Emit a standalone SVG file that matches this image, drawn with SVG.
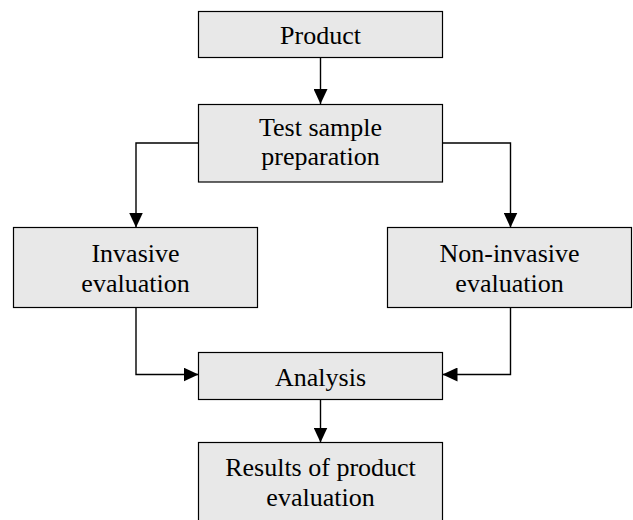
<svg xmlns="http://www.w3.org/2000/svg" width="633" height="520" viewBox="0 0 633 520">
<style>
.box{fill:#e8e8e8;stroke:#000;stroke-width:1.2}
.t{font-family:"Liberation Serif","Times New Roman",serif;font-size:26px;fill:#000;text-anchor:middle}
.c{fill:none;stroke:#000;stroke-width:1.4}
</style>
<defs>
<marker id="ah" markerUnits="userSpaceOnUse" markerWidth="15" markerHeight="14" refX="15" refY="7" orient="auto">
<path d="M0,0 L15,7 L0,14 Z" fill="#000"/>
</marker>
</defs>
<rect width="633" height="520" fill="#fff"/>
<g id="connectors">
<path class="c" d="M320.5 57.5 V104" marker-end="url(#ah)"/>
<path class="c" d="M198.5 143 H136 V227.5" marker-end="url(#ah)"/>
<path class="c" d="M442.5 143 H510.5 V227.5" marker-end="url(#ah)"/>
<path class="c" d="M136 307.5 V374.5 H198.5" marker-end="url(#ah)"/>
<path class="c" d="M510.5 307.5 V374.5 H442.5" marker-end="url(#ah)"/>
<path class="c" d="M320.5 399.5 V442.5" marker-end="url(#ah)"/>
</g>
<g id="product">
<rect class="box" x="198.5" y="11.5" width="244" height="46"/>
<text class="t" x="320.5" y="43.5">Product</text>
</g>
<g id="test-sample">
<rect class="box" x="198.5" y="104.5" width="244" height="77.5"/>
<text class="t" x="320.5" y="136">Test sample</text>
<text class="t" x="320.5" y="165">preparation</text>
</g>
<g id="invasive">
<rect class="box" x="13.5" y="227.5" width="244" height="80"/>
<text class="t" x="135.5" y="261.7">Invasive</text>
<text class="t" x="135.5" y="291.7">evaluation</text>
</g>
<g id="non-invasive">
<rect class="box" x="387.5" y="227.5" width="244" height="80"/>
<text class="t" x="509.5" y="261.7">Non-invasive</text>
<text class="t" x="509.5" y="291.7">evaluation</text>
</g>
<g id="analysis">
<rect class="box" x="198.5" y="352.5" width="244" height="47"/>
<text class="t" x="320.5" y="385.7">Analysis</text>
</g>
<g id="results">
<rect class="box" x="198.5" y="442.5" width="244" height="80"/>
<text class="t" x="320.5" y="476">Results of product</text>
<text class="t" x="320.5" y="506">evaluation</text>
</g>
</svg>
